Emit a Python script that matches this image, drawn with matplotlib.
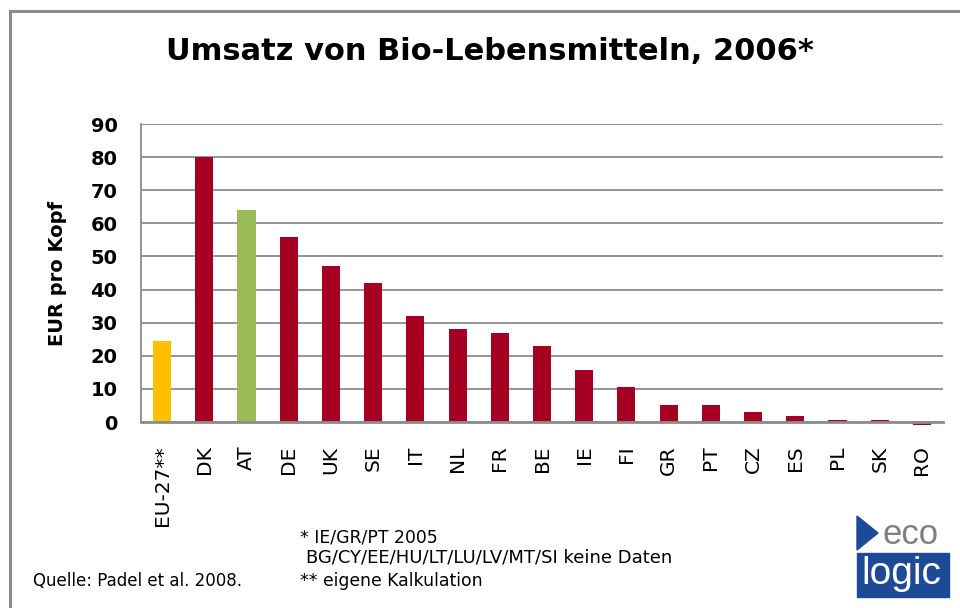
import matplotlib
matplotlib.use("Agg")
import matplotlib.pyplot as plt
from matplotlib.patches import Rectangle, Polygon

plt.rcParams['font.family'] = ['DejaVu Sans']

categories = ["EU-27**", "DK", "AT", "DE", "UK", "SE", "IT", "NL", "FR", "BE",
              "IE", "FI", "GR", "PT", "CZ", "ES", "PL", "SK", "RO"]
values = [24.5, 80, 64, 56, 47, 42, 32, 28, 27, 23,
          15.7, 10.6, 5, 5, 3, 1.9, 0.6, 0.6, -0.8]
colors = ["#FFC000", "#A50021", "#9BBB59"] + ["#A50021"] * 16
yticks = [0, 10, 20, 30, 40, 50, 60, 70, 80, 90]

W, H = 960, 608
fig = plt.figure(figsize=(W / 100, H / 100), dpi=100)

# border lines
fig.add_artist(plt.Line2D([10 / W, 10 / W], [0, 1 - 11 / H], color="#8c8c8c", lw=2.2))
fig.add_artist(plt.Line2D([10 / W, 1], [1 - 11 / H, 1 - 11 / H], color="#8c8c8c", lw=2.2))

ax = fig.add_axes([141 / W, 1 - 422 / H, (943 - 141) / W, (422 - 124) / H])
x = list(range(len(categories)))
bars = ax.bar(x, values, width=0.43, color=colors, zorder=3)
for b in bars:
    b.set_clip_on(False)
ax.set_xlim(-0.5, len(categories) - 0.5)
ax.set_ylim(0, 90)
ax.set_yticks(yticks)
ax.set_yticklabels([str(v) for v in yticks], fontsize=14, fontweight="bold")
ax.set_xticks(x)
ax.set_xticklabels(categories, rotation=90, fontsize=14.5)
ax.tick_params(axis="y", length=0, pad=17)
ax.tick_params(axis="x", length=0, pad=17)
ax.yaxis.grid(True, color="#8c8c8c", lw=1.3, zorder=0)
for s in ["top", "right"]:
    ax.spines[s].set_visible(False)
ax.spines["left"].set_color("#8c8c8c")
ax.spines["left"].set_linewidth(1.3)
ax.spines["bottom"].set_color("#8c8c8c")
ax.spines["bottom"].set_linewidth(2.0)
ax.spines["bottom"].set_zorder(4)
ax.set_ylabel("EUR pro Kopf", fontsize=14, fontweight="bold", labelpad=17)

fig.text(490 / W, 1 - 52 / H, "Umsatz von Bio-Lebensmitteln, 2006*", ha="center",
         va="center", fontsize=22, fontweight="bold")

fs = 12.4
fig.text(300 / W, 1 - 538 / H, "* IE/GR/PT 2005", fontsize=fs, va="center")
fig.text(306 / W, 1 - 558 / H, "BG/CY/EE/HU/LT/LU/LV/MT/SI keine Daten", fontsize=13, va="center")
fig.text(300 / W, 1 - 581 / H, "** eigene Kalkulation", fontsize=fs, va="center")
fig.text(33 / W, 1 - 581 / H, "Quelle: Padel et al. 2008.", fontsize=12, va="center")

# logo
blue = "#1d4a96"
fig.add_artist(Polygon([[857 / W, 1 - 516 / H], [878 / W, 1 - 533 / H], [857 / W, 1 - 550 / H]],
                       closed=True, color=blue, transform=fig.transFigure))
fig.text(883 / W, 1 - 535 / H, "eco", fontsize=25, color="#7f7f7f", va="center",
         family="Liberation Sans")
fig.add_artist(Rectangle((857 / W, 1 - 597 / H), 92 / W, 44 / H, color=blue,
                         transform=fig.transFigure))
fig.text(861 / W, 1 - 574 / H, "logic", fontsize=28, color="white", va="center",
         family="Liberation Sans")

fig.savefig("out.png", dpi=100)
